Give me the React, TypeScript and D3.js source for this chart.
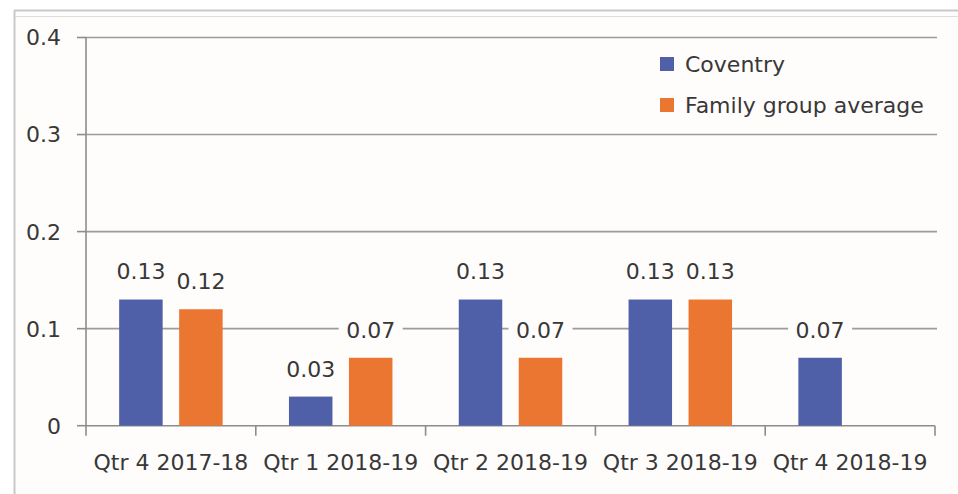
import { useEffect, useRef } from 'react';
import * as d3 from 'd3';

const categories = ['Qtr 4 2017-18', 'Qtr 1 2018-19', 'Qtr 2 2018-19', 'Qtr 3 2018-19', 'Qtr 4 2018-19'];
const seriesNames = ['Coventry', 'Family group average'];
const coventry: (number | null)[] = [0.13, 0.03, 0.13, 0.13, 0.07];
const familyAverage: (number | null)[] = [0.12, 0.07, 0.07, 0.13, null];
const yTicks = [0, 0.1, 0.2, 0.3, 0.4];
const colors = ['#5060a8', '#ea7632'];

const FONT = '"DejaVu Sans", Verdana, sans-serif';
const TEXT = '#383838';

export default function App() {
  const svgRef = useRef<SVGSVGElement>(null);

  useEffect(() => {
    if (!svgRef.current) return;
    document.body.style.margin = '0';

    const width = 958;
    const height = 494;
    const svg = d3.select(svgRef.current);
    svg.selectAll('*').remove();

    const plot = { left: 86, right: 935, top: 37.5, bottom: 425.7 };

    // Frame and background
    svg.append('rect').attr('width', width).attr('height', height).attr('fill', '#ffffff');
    svg.append('rect')
      .attr('x', 15).attr('y', 11)
      .attr('width', width - 15).attr('height', height - 11)
      .attr('fill', '#fefdfb');
    svg.append('line').attr('x1', 14).attr('x2', width).attr('y1', 10.5).attr('y2', 10.5)
      .attr('stroke', '#c9c9c9').attr('stroke-width', 2);
    svg.append('line').attr('x1', 15).attr('x2', width).attr('y1', 16.5).attr('y2', 16.5)
      .attr('stroke', '#dedede').attr('stroke-width', 1);
    svg.append('line').attr('x1', 14.5).attr('x2', 14.5).attr('y1', 10).attr('y2', height)
      .attr('stroke', '#c9c9c9').attr('stroke-width', 2);

    const x0 = d3.scaleBand<string>()
      .domain(categories)
      .range([plot.left, plot.right])
      .paddingInner(0)
      .paddingOuter(0);

    const x1 = d3.scaleBand<string>()
      .domain(seriesNames)
      .range([0, x0.bandwidth()])
      .paddingInner(0.275)
      .paddingOuter(0.5525);

    const y = d3.scaleLinear().domain([0, 0.4]).range([plot.bottom, plot.top]);

    // Gridlines
    svg.append('g')
      .selectAll('line')
      .data(yTicks.filter(t => t > 0))
      .join('line')
      .attr('x1', plot.left)
      .attr('x2', plot.right + 2)
      .attr('y1', d => y(d))
      .attr('y2', d => y(d))
      .attr('stroke', '#9c9c9c')
      .attr('stroke-width', 1.6);

    // Y axis
    const yAxis = svg.append('g');
    yAxis.append('line')
      .attr('x1', plot.left).attr('x2', plot.left)
      .attr('y1', plot.top).attr('y2', plot.bottom + 10)
      .attr('stroke', '#8c8c8c').attr('stroke-width', 1.6);
    yAxis.selectAll('line.tick')
      .data(yTicks)
      .join('line')
      .attr('class', 'tick')
      .attr('x1', plot.left - 9).attr('x2', plot.left)
      .attr('y1', d => y(d)).attr('y2', d => y(d))
      .attr('stroke', '#8c8c8c').attr('stroke-width', 1.6);
    yAxis.selectAll('text')
      .data(yTicks)
      .join('text')
      .attr('x', 61)
      .attr('y', d => y(d))
      .attr('dy', '0.36em')
      .attr('text-anchor', 'end')
      .attr('font-family', FONT)
      .attr('font-size', 22)
      .attr('fill', TEXT)
      .text(d => d3.format('~g')(d));

    // X axis
    const xAxis = svg.append('g');
    xAxis.append('line')
      .attr('x1', plot.left).attr('x2', plot.right)
      .attr('y1', plot.bottom).attr('y2', plot.bottom)
      .attr('stroke', '#8c8c8c').attr('stroke-width', 1.6);
    const boundaries = categories.map(c => (x0(c) as number) + x0.bandwidth());
    xAxis.selectAll('line.tick')
      .data(boundaries)
      .join('line')
      .attr('class', 'tick')
      .attr('x1', d => d).attr('x2', d => d)
      .attr('y1', plot.bottom).attr('y2', plot.bottom + 10)
      .attr('stroke', '#8c8c8c').attr('stroke-width', 1.6);
    xAxis.selectAll('text')
      .data(categories)
      .join('text')
      .attr('x', d => (x0(d) as number) + x0.bandwidth() / 2)
      .attr('y', 470)
      .attr('text-anchor', 'middle')
      .attr('font-family', FONT)
      .attr('font-size', 22)
      .attr('fill', TEXT)
      .text(d => d);

    // Bars
    const rows = categories.flatMap((c, i) => [
      { cat: c, series: seriesNames[0], value: coventry[i], color: colors[0] },
      { cat: c, series: seriesNames[1], value: familyAverage[i], color: colors[1] },
    ]).filter(d => d.value !== null) as { cat: string; series: string; value: number; color: string }[];

    svg.append('g')
      .selectAll('rect')
      .data(rows)
      .join('rect')
      .attr('x', d => (x0(d.cat) as number) + (x1(d.series) as number))
      .attr('y', d => y(d.value))
      .attr('width', x1.bandwidth())
      .attr('height', d => y(0) - y(d.value))
      .attr('fill', d => d.color);

    // Data labels with white backing
    const labels = svg.append('g')
      .selectAll('g')
      .data(rows)
      .join('g')
      .attr('transform', d => {
        const cx = (x0(d.cat) as number) + (x1(d.series) as number) + x1.bandwidth() / 2;
        return `translate(${cx},${y(d.value) - 28})`;
      });
    labels.append('rect')
      .attr('x', -32).attr('y', -13)
      .attr('width', 64).attr('height', 26)
      .attr('fill', '#fefdfb');
    labels.append('text')
      .attr('text-anchor', 'middle')
      .attr('dy', '0.36em')
      .attr('font-family', FONT)
      .attr('font-size', 22)
      .attr('fill', TEXT)
      .text(d => d3.format('.2f')(d.value));

    // Legend
    const legend = svg.append('g')
      .selectAll('g')
      .data(seriesNames)
      .join('g')
      .attr('transform', (_, i) => `translate(660,${64 + i * 41})`);
    legend.append('rect')
      .attr('x', 0).attr('y', -7)
      .attr('width', 14).attr('height', 14)
      .attr('fill', (_, i) => colors[i]);
    legend.append('text')
      .attr('x', 25)
      .attr('dy', '0.36em')
      .attr('font-family', FONT)
      .attr('font-size', 22)
      .attr('fill', TEXT)
      .text(d => d);
  }, []);

  return (
    <svg
      ref={svgRef}
      width={958}
      height={494}
      style={{ display: 'block', position: 'absolute', left: 0, top: 0 }}
    />
  );
}
